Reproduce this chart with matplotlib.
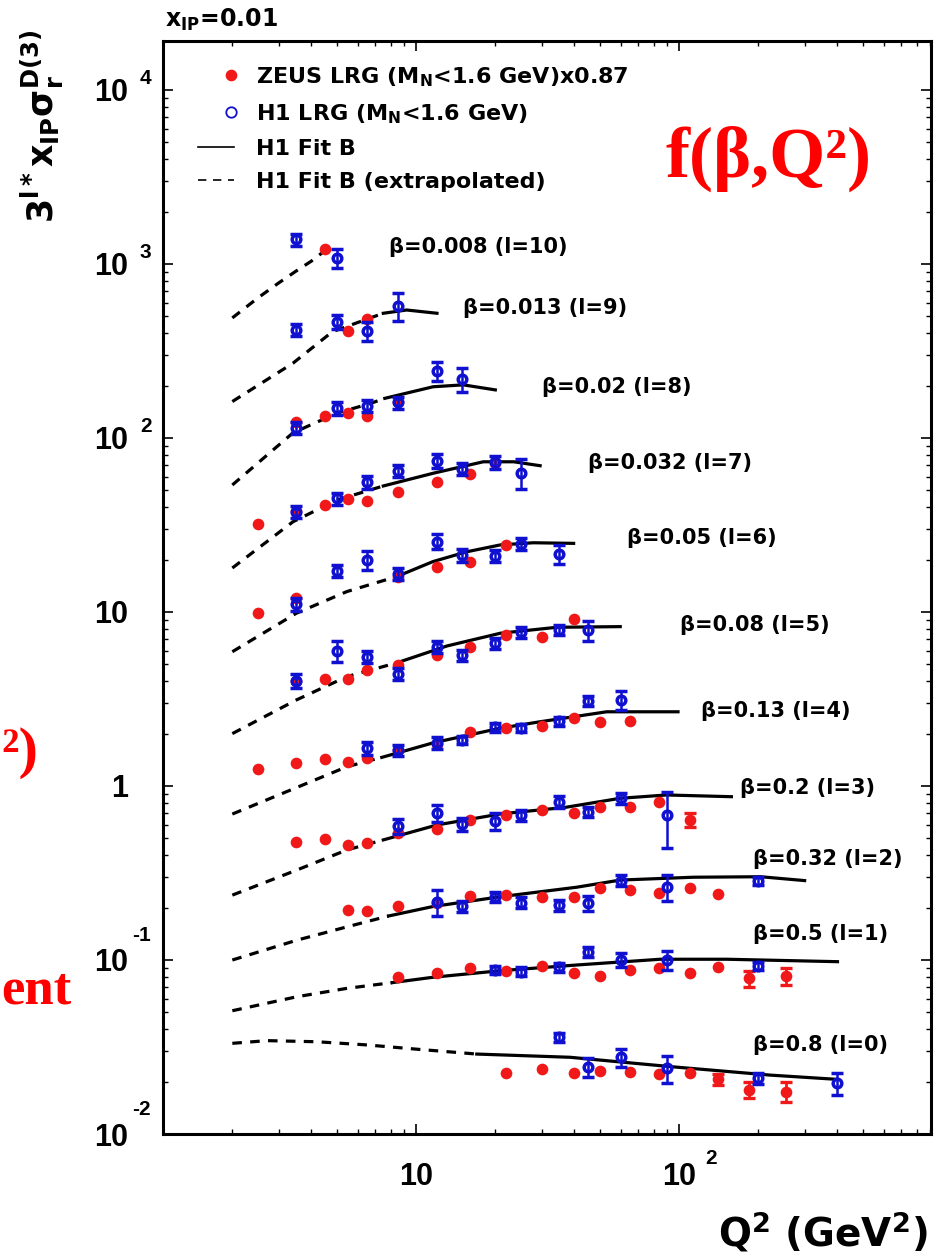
import numpy as np
import matplotlib
matplotlib.use("Agg")
import matplotlib.pyplot as plt
from matplotlib.lines import Line2D
from matplotlib import transforms
from matplotlib.legend_handler import HandlerLine2DCompound
from matplotlib.ticker import FixedLocator, FixedFormatter, LogLocator, NullFormatter

# ---------------- data (values as plotted: 3^l * x_IP * sigma_r) ----------------
BETA_LABELS = ['β=0.008 (l=10)', 'β=0.013 (l=9)', 'β=0.02 (l=8)', 'β=0.032 (l=7)',
               'β=0.05 (l=6)', 'β=0.08 (l=5)', 'β=0.13 (l=4)', 'β=0.2 (l=3)',
               'β=0.32 (l=2)', 'β=0.5 (l=1)', 'β=0.8 (l=0)']

ZEUS_Q2 = [
    [4.5],
    [5.5, 6.5],
    [3.5, 4.5, 5.5, 6.5, 8.5],
    [2.5, 3.5, 4.5, 5.5, 6.5, 8.5, 12, 16, 20],
    [2.5, 3.5, 8.5, 12, 16, 22],
    [3.5, 4.5, 5.5, 6.5, 8.5, 12, 16, 22, 30, 40],
    [2.5, 3.5, 4.5, 5.5, 6.5, 8.5, 12, 16, 22, 30, 40, 50, 65],
    [3.5, 4.5, 5.5, 6.5, 8.5, 12, 16, 22, 30, 40, 50, 65, 84, 110],
    [5.5, 6.5, 8.5, 12, 16, 22, 30, 40, 50, 65, 84, 110, 140],
    [8.5, 12, 16, 22, 30, 40, 50, 65, 84, 110, 140, 185, 255],
    [22, 30, 40, 50, 65, 84, 110, 140, 185, 255],
]
ZEUS_VAL = [
    [1215],
    [414, 481],
    [124, 134, 139, 133, 162],
    [32, 38, 41, 44.6, 43.4, 49, 55.6, 61.8, 72],
    [9.83, 12.1, 15.8, 18.1, 19.5, 24.3],
    [4.0, 4.10, 4.12, 4.64, 4.96, 5.66, 6.32, 7.38, 7.21, 9.08],
    [1.25, 1.35, 1.42, 1.38, 1.44, 1.60, 1.75, 2.05, 2.15, 2.21, 2.45, 2.34, 2.37],
    [0.479, 0.494, 0.458, 0.469, 0.535, 0.564, 0.638, 0.681, 0.728, 0.697, 0.760, 0.760, 0.812, 0.638],
    [0.194, 0.191, 0.204, 0.212, 0.233, 0.236, 0.229, 0.231, 0.258, 0.252, 0.242, 0.258, 0.239],
    [0.0802, 0.0845, 0.0896, 0.0868, 0.0924, 0.0839, 0.0809, 0.0876, 0.0896, 0.0839, 0.0915, 0.0785, 0.0809],
    [0.0225, 0.0235, 0.0225, 0.0231, 0.0228, 0.0221, 0.0225, 0.0206, 0.0179, 0.0175],
]
ZEUS_ERR = [
    [0],
    [0, 0],
    [0, 0, 0, 0, 0],
    [0, 0, 0, 0, 0, 0, 0, 0, 0],
    [0, 0, 0, 0, 0, 0],
    [0, 0, 0, 0, 0, 0, 0, 0, 0, 0],
    [0, 0, 0, 0, 0, 0, 0, 0, 0, 0, 0, 0, 0],
    [0, 0, 0, 0, 0, 0, 0, 0, 0, 0, 0, 0, 0, 0.06],
    [0, 0, 0, 0, 0, 0, 0, 0, 0, 0, 0, 0, 0],
    [0, 0, 0, 0, 0, 0, 0, 0, 0, 0, 0, 0.0085, 0.0095],
    [0, 0, 0, 0, 0, 0, 0, 0.0014, 0.0019, 0.0023],
]

H1_Q2 = [
    [3.5, 5.0],
    [3.5, 5.0, 6.5, 8.5],
    [3.5, 5.0, 6.5, 8.5, 12, 15],
    [3.5, 5.0, 6.5, 8.5, 12, 15, 20, 25],
    [3.5, 5.0, 6.5, 8.5, 12, 15, 20, 25, 35],
    [3.5, 5.0, 6.5, 8.5, 12, 15, 20, 25, 35, 45],
    [6.5, 8.5, 12, 15, 20, 25, 35, 45, 60],
    [8.5, 12, 15, 20, 25, 35, 45, 60, 90],
    [12, 15, 20, 25, 35, 45, 60, 90, 200],
    [20, 25, 35, 45, 60, 90, 200],
    [35, 45, 60, 90, 200, 400],
]
H1_VAL = [
    [1387, 1087],
    [418, 466, 412, 574],
    [114, 148, 153, 160, 244, 217],
    [37.7, 45, 55.6, 64.9, 74, 66.3, 72.5, 63.2],
    [11.1, 17.2, 19.9, 16.5, 25.4, 21.2, 21.0, 24.6, 21.5],
    [4.03, 5.97, 5.53, 4.40, 6.32, 5.66, 6.61, 7.64, 7.88, 7.88],
    [1.65, 1.61, 1.77, 1.85, 2.17, 2.15, 2.35, 3.08, 3.12],
    [0.589, 0.697, 0.602, 0.632, 0.681, 0.812, 0.711, 0.850, 0.681],
    [0.216, 0.203, 0.231, 0.214, 0.207, 0.212, 0.286, 0.264, 0.286],
    [0.0876, 0.0857, 0.0908, 0.1116, 0.100, 0.100, 0.0924],
    [0.036, 0.0242, 0.0276, 0.0239, 0.0209, 0.0196],
]
H1_ERR = [
    [110, 140],
    [33, 45, 52, 105],
    [9, 12, 12, 13, 31, 34],
    [3.0, 3.6, 4.5, 5.2, 7.0, 5.3, 5.8, 12.6],
    [0.9, 1.4, 2.5, 1.3, 2.5, 1.7, 1.7, 2.0, 2.7],
    [0.35, 0.8, 0.45, 0.35, 0.5, 0.4, 0.5, 0.55, 0.55, 1.05],
    [0.14, 0.12, 0.14, 0.10, 0.12, 0.12, 0.14, 0.20, 0.40],
    [0.06, 0.077, 0.05, 0.07, 0.05, 0.06, 0.05, 0.06, 0.24],
    [0.038, 0.015, 0.015, 0.015, 0.015, 0.02, 0.02, 0.045, 0.015],
    [0.005, 0.005, 0.005, 0.007, 0.009, 0.012, 0.005],
    [0.0022, 0.003, 0.0032, 0.0043, 0.0015, 0.0028],
]

# H1 Fit B curves (nodes); dashed below FIT_SPLIT, solid above
FIT_Q2 = [
    [2.0, 2.5, 3.0, 3.5, 4.0, 4.43],
    [2.0, 3.4, 4.8, 6.7, 7.5, 9.2, 12.0],
    [2.0, 3.4, 5.0, 6.7, 7.6, 11.6, 15.1, 20.0],
    [2.0, 3.4, 5.0, 7.5, 11.6, 18.0, 23.5, 29.6],
    [2.0, 3.5, 5.45, 8.45, 11.6, 15.6, 20.9, 27.9, 39.7],
    [2.0, 3.5, 5.45, 8.5, 13.1, 20.9, 34.3, 59.7],
    [2.0, 3.0, 5.45, 7.4, 11.6, 20.9, 29.6, 53, 99],
    [2.0, 3.52, 5.45, 7.5, 12, 20.9, 37, 59.7, 89.6, 158],
    [2.0, 3.52, 5.45, 7.85, 11.6, 20.9, 40.8, 59.7, 113, 204, 300],
    [2.0, 3.52, 5.45, 8.1, 11.6, 20.9, 40.8, 84.7, 152, 400],
    [2.0, 2.71, 4.19, 6.5, 10.1, 17, 38.5, 92.4, 222, 400],
]
FIT_VAL = [
    [490, 638, 778, 912, 1040, 1172],
    [162, 269, 408, 490, 521, 544, 521],
    [53.7, 107, 139, 158, 169, 197, 202, 189],
    [17.9, 33, 44, 53, 62.7, 73, 73, 69.3],
    [5.91, 9.83, 13.1, 16.0, 19.5, 22.2, 24.3, 25.0, 24.8],
    [2.0, 3.12, 4.25, 5.12, 6.38, 7.55, 8.17, 8.24],
    [0.69, 0.888, 1.29, 1.46, 1.77, 2.15, 2.34, 2.67, 2.67],
    [0.236, 0.329, 0.429, 0.490, 0.597, 0.691, 0.754, 0.850, 0.888, 0.868],
    [0.100, 0.130, 0.155, 0.179, 0.203, 0.231, 0.262, 0.288, 0.299, 0.301, 0.286],
    [0.0511, 0.0615, 0.0687, 0.0741, 0.0796, 0.0868, 0.0936, 0.101, 0.101, 0.0978],
    [0.0332, 0.0344, 0.0339, 0.0325, 0.0307, 0.0288, 0.0276, 0.0244, 0.0218, 0.0206],
]
FIT_SPLIT = [None, 7.5, 7.6, 7.5, 8.45, 8.5, 7.4, 7.5, 7.85, 8.1, 17]

Y_TICKS = [1e-2, 1e-1, 1, 10, 1e2, 1e3, 1e4]
Y_TICK_LABELS = ['10', '10', '1', '10', '10', '10', '10']
Y_TICK_EXP = ['-2', '-1', '', '', '2', '3', '4']
X_TICKS = [10, 100]
X_TICK_LABELS = ['10', '10']
X_TICK_EXP = ['', '2']

# ---------------- layout / style ----------------
LABEL_POS = [(7.9, 1253), (15.1, 558), (30.1, 197), (45.2, 71.6), (63.5, 26.5),
             (101, 8.42), (121, 2.70), (171, 0.970), (191, 0.380), (191, 0.142), (191, 0.0325)]
RED = '#f01818'
BLUE = '#1010d0'
W, H = 941, 1259

plt.rcParams['font.family'] = ['DejaVu Sans']
plt.rcParams['mathtext.fontset'] = 'dejavusans'

fig = plt.figure(figsize=(W / 100, H / 100), dpi=100)
ax = fig.add_axes([163 / W, 125 / H, 768 / W, 1093.3 / H])
ax.set_xscale('log')
ax.set_yscale('log')
ax.set_xlim(1.09, 907)
ax.set_ylim(0.01, 1.92e4)

dash = (0, (3.0, 2.6))
for i in range(len(BETA_LABELS)):
    q = np.array(FIT_Q2[i], dtype=float)
    v = np.array(FIT_VAL[i], dtype=float)
    s = FIT_SPLIT[i]
    if s is None:
        ax.plot(q, v, color='black', lw=2.3, ls=dash, zorder=2)
    else:
        ax.plot(q[q <= s], v[q <= s], color='black', lw=2.3, ls=dash, zorder=2)
        ax.plot(q[q >= s], v[q >= s], color='black', lw=2.3, ls='-', zorder=2)

    zq = np.array(ZEUS_Q2[i], dtype=float)
    zv = np.array(ZEUS_VAL[i], dtype=float)
    ze = np.array(ZEUS_ERR[i], dtype=float)
    ax.plot(zq, zv, ls='none', marker='o', ms=8.4, color=RED, mec='none', zorder=3)
    m = ze > 0
    if m.any():
        ax.errorbar(zq[m], zv[m], yerr=ze[m], fmt='none', ecolor=RED, elinewidth=2.0,
                    capsize=4.2, capthick=2.4, zorder=3)

    ax.errorbar(H1_Q2[i], H1_VAL[i], yerr=H1_ERR[i], fmt='o', ms=6.2, mfc='none',
                mec=BLUE, mew=2.5, ecolor=BLUE, elinewidth=1.8, capsize=4.3,
                capthick=2.4, zorder=4)

    ax.text(LABEL_POS[i][0], LABEL_POS[i][1], BETA_LABELS[i], fontsize=15,
            fontweight='bold', ha='left', va='center', zorder=5)

# axes cosmetics
for sp in ax.spines.values():
    sp.set_linewidth(2.2)
ax.yaxis.set_major_locator(FixedLocator(Y_TICKS))
ax.yaxis.set_major_formatter(FixedFormatter(Y_TICK_LABELS))
ax.xaxis.set_major_locator(FixedLocator(X_TICKS))
ax.xaxis.set_major_formatter(FixedFormatter(X_TICK_LABELS))
ax.xaxis.set_minor_locator(LogLocator(base=10, subs=np.arange(2, 10)))
ax.yaxis.set_minor_locator(LogLocator(base=10, subs=np.arange(2, 10), numticks=20))
ax.xaxis.set_minor_formatter(NullFormatter())
ax.yaxis.set_minor_formatter(NullFormatter())
ax.tick_params(which='both', direction='in', top=True, right=True)
ax.tick_params(which='major', length=7, width=1.2)
ax.tick_params(which='minor', length=3.6, width=1.0)
ax.tick_params(axis='y', which='major', pad=25)
ax.tick_params(axis='x', which='major', pad=20)
for lab in ax.get_xticklabels() + ax.get_yticklabels():
    lab.set_fontfamily('Liberation Sans')
    lab.set_fontweight('bold')
    lab.set_fontsize(22)

# exponents of the tick labels
ytr = transforms.blended_transform_factory(ax.transAxes, ax.transData)
for t, e in zip(Y_TICKS, Y_TICK_EXP):
    if not e:
        continue
    neg = e.startswith('-')
    dx = -22.3 if neg else -16.6
    dy = 17.6 if neg else 8.6
    ax.text(0, t, e, transform=transforms.offset_copy(ytr, fig=fig, x=dx, y=dy, units='points'),
            fontfamily='Liberation Sans', fontweight='bold', fontsize=15,
            ha='left', va='center', clip_on=False)
xtr = transforms.blended_transform_factory(ax.transData, ax.transAxes)
for t, e in zip(X_TICKS, X_TICK_EXP):
    if not e:
        continue
    ax.text(t, 0, e, transform=transforms.offset_copy(xtr, fig=fig, x=18.7, y=-17.6, units='points'),
            fontfamily='Liberation Sans', fontweight='bold', fontsize=15,
            ha='left', va='center', clip_on=False)


class RightMarkerHandler(HandlerLine2DCompound):
    """Legend handler that puts the marker at the right end of the handle box."""
    def get_xdata(self, legend, xdescent, ydescent, width, height, fontsize):
        xdata, _ = super().get_xdata(legend, xdescent, ydescent, width, height, fontsize)
        return xdata, np.array([width - xdescent - 2.0])


# legend
h_zeus = Line2D([], [], ls='none', marker='o', ms=8.4, color=RED, mec='none')
h_h1 = Line2D([], [], ls='none', marker='o', ms=7.5, mfc='none', mec=BLUE, mew=1.3)
h_fit = Line2D([], [], color='black', lw=1.2)
h_ext = Line2D([], [], color='black', lw=1.2, ls=(0, (5, 4)))
labels = [r'ZEUS LRG (M$_{\mathbf{N}}$<1.6 GeV)x0.87',
          r'H1 LRG (M$_{\mathbf{N}}$<1.6 GeV)',
          'H1 Fit B',
          'H1 Fit B (extrapolated)']
leg = ax.legend([h_zeus, h_h1, h_fit, h_ext], labels, loc='upper left',
                bbox_to_anchor=((198 - 163) / 768, 1 - (65 - 40.7) / 1093.3),
                frameon=False, borderpad=0, borderaxespad=0, handlelength=1.6,
                handletextpad=1.0, labelspacing=0.6, prop={'weight': 'bold', 'size': 16},
                handler_map={h_zeus: RightMarkerHandler(numpoints=1),
                             h_h1: RightMarkerHandler(numpoints=1)})

# axis titles and annotations
fig.text(165 / W, 1 - 27 / H, r'$\mathbf{x_{IP}}$=0.01', fontsize=17, fontweight='bold',
         ha='left', va='baseline')
fig.text(42 / W, 1 - 126 / H, r'$\mathbf{3^{l*}x_{IP}\sigma_{r}^{D(3)}}$', rotation=90,
         fontsize=25, ha='center', va='center')
fig.text(928 / W, 1 - 1246 / H, r'Q$^{\mathbf{2}}$ (GeV$^{\mathbf{2}}$)', fontsize=28,
         fontweight='bold', ha='right', va='baseline')

fig.text(665 / W, 1 - 177 / H, 'f(β,Q²)', fontfamily='Liberation Serif', fontweight='bold',
         color='red', fontsize=52, ha='left', va='baseline')
fig.text(1 / W, 1 - 767 / H, '²)', fontfamily='Liberation Serif', fontweight='bold',
         color='red', fontsize=42, ha='left', va='baseline')
fig.text(1 / W, 1 - 1003 / H, 'ent', fontfamily='Liberation Serif', fontweight='bold',
         color='red', fontsize=38, ha='left', va='baseline')

fig.savefig('out.png', dpi=100, facecolor='white')
